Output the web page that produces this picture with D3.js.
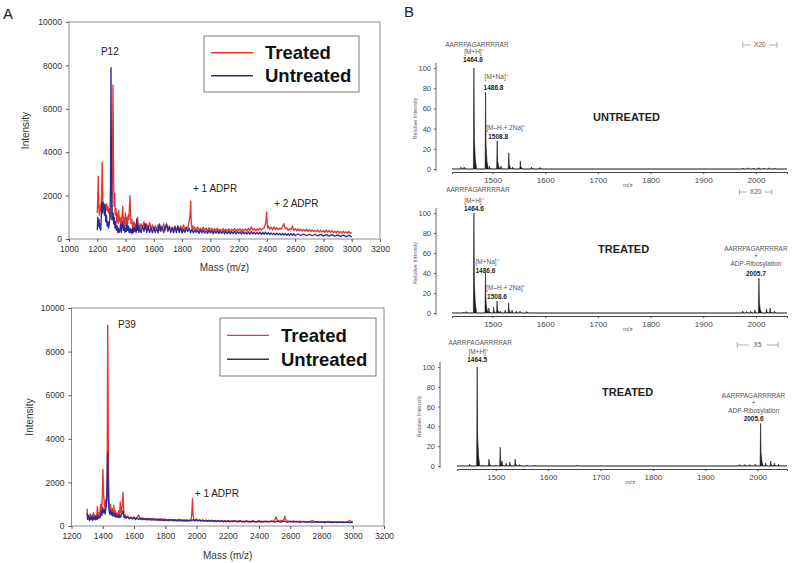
<!DOCTYPE html>
<html><head><meta charset="utf-8">
<script src="https://cdn.jsdelivr.net/npm/d3@7"></script>
<style>body{margin:0;background:#fff} svg{display:block;font-family:"Liberation Sans",Arial,sans-serif}</style>
</head><body><svg id="c" width="800" height="563"></svg>
<script>
// ---------------- DATA ----------------
// Panel A (top): P12 spectra [m/z, intensity]
const p12Treated = [[1200,1200],[1204,2000],[1207,2900],[1211,1500],[1215,1100],[1219,1300],[1223,1600],[1227,1300],[1231,2200],[1235,3550],[1239,1800],[1243,1400],[1247,1600],[1251,1300],[1255,1500],[1260,1350],[1265,1600],[1270,1300],[1275,1500],[1280,1200],[1285,1400],[1290,1000],[1295,1200],[1300,900],[1304,1400],[1307,3000],[1311,7100],[1315,3200],[1319,1500],[1323,2100],[1327,1100],[1332,1400],[1337,800],[1342,1200],[1347,700],[1352,1300],[1357,800],[1362,1000],[1367,600],[1372,900],[1376,1100],[1380,1500],[1384,700],[1389,1000],[1394,500],[1399,1200],[1404,600],[1409,1000],[1414,700],[1419,1100],[1424,900],[1428,1500],[1431,2000],[1435,1100],[1440,700],[1445,900],[1450,500],[1455,700],[1460,800],[1465,450],[1470,700],[1475,500],[1480,900],[1485,1000],[1490,500],[1495,700],[1500,450],[1510,700],[1520,500],[1530,800],[1540,450],[1550,700],[1560,400],[1570,750],[1580,450],[1590,650],[1600,400],[1610,600],[1620,450],[1630,650],[1640,400],[1650,600],[1660,450],[1670,700],[1680,400],[1690,650],[1700,450],[1710,600],[1720,400],[1730,550],[1740,450],[1750,600],[1760,400],[1770,550],[1780,450],[1790,600],[1800,400],[1810,650],[1820,450],[1830,550],[1840,500],[1852,900],[1857,1200],[1861,1750],[1865,700],[1870,500],[1875,600],[1880,450],[1890,550],[1900,400],[1910,550],[1920,400],[1930,500],[1940,380],[1950,550],[1960,400],[1970,500],[1980,380],[1990,520],[2000,400],[2010,500],[2020,350],[2030,480],[2040,380],[2050,500],[2060,350],[2070,450],[2080,380],[2090,480],[2100,350],[2110,450],[2120,380],[2130,470],[2140,350],[2150,450],[2160,380],[2170,480],[2180,350],[2190,460],[2200,380],[2210,470],[2220,350],[2230,450],[2240,380],[2250,460],[2260,360],[2270,500],[2280,380],[2290,560],[2300,400],[2310,480],[2320,380],[2330,470],[2340,400],[2350,500],[2360,420],[2370,480],[2380,500],[2390,700],[2394,900],[2398,1250],[2402,700],[2406,500],[2410,600],[2420,450],[2430,550],[2440,420],[2450,560],[2460,430],[2470,520],[2480,420],[2490,500],[2500,450],[2510,550],[2520,700],[2530,480],[2540,520],[2550,400],[2560,480],[2570,420],[2580,600],[2590,400],[2600,480],[2610,380],[2620,470],[2630,380],[2640,450],[2650,360],[2660,440],[2670,360],[2680,450],[2690,350],[2700,430],[2710,340],[2720,420],[2730,340],[2740,400],[2750,330],[2760,420],[2770,320],[2780,400],[2790,320],[2800,380],[2810,300],[2820,420],[2830,310],[2840,400],[2850,300],[2860,380],[2870,290],[2880,360],[2890,280],[2900,370],[2910,280],[2920,350],[2930,270],[2940,360],[2950,280],[2960,340],[2970,260],[2980,350],[2990,250],[3000,300]];
const p12Untreated = [[1200,400],[1204,1000],[1208,600],[1212,900],[1216,500],[1220,700],[1224,400],[1228,1000],[1232,1700],[1236,1200],[1240,1700],[1245,1500],[1250,1100],[1255,1600],[1260,800],[1265,1100],[1270,600],[1275,800],[1280,500],[1285,700],[1290,1000],[1294,2500],[1297,7900],[1300,3500],[1303,1500],[1307,900],[1312,1200],[1316,700],[1320,1000],[1325,500],[1330,800],[1335,400],[1340,600],[1345,300],[1350,500],[1355,300],[1360,400],[1365,700],[1370,300],[1375,600],[1380,800],[1385,400],[1390,600],[1395,300],[1400,500],[1405,350],[1410,700],[1415,400],[1420,600],[1425,300],[1430,500],[1435,300],[1440,450],[1445,250],[1450,500],[1455,300],[1460,550],[1465,350],[1470,500],[1475,300],[1480,900],[1485,400],[1490,600],[1495,300],[1500,500],[1510,300],[1520,600],[1530,350],[1540,700],[1550,300],[1560,600],[1570,300],[1580,500],[1590,280],[1600,550],[1610,300],[1620,500],[1630,280],[1640,700],[1650,350],[1660,550],[1670,300],[1680,500],[1690,700],[1700,350],[1710,550],[1720,300],[1730,500],[1740,280],[1750,550],[1760,300],[1770,600],[1780,300],[1790,500],[1800,280],[1810,450],[1820,300],[1830,500],[1840,350],[1850,500],[1860,300],[1870,450],[1880,280],[1890,420],[1900,300],[1910,400],[1920,260],[1930,420],[1940,280],[1950,400],[1960,270],[1970,380],[1980,260],[1990,400],[2000,280],[2010,380],[2020,250],[2030,370],[2040,270],[2050,380],[2060,250],[2070,360],[2080,260],[2090,370],[2100,240],[2110,350],[2120,250],[2130,360],[2140,240],[2150,340],[2160,250],[2170,350],[2180,230],[2190,340],[2200,250],[2210,330],[2220,230],[2230,340],[2240,240],[2250,320],[2260,230],[2270,330],[2280,220],[2290,340],[2300,230],[2310,320],[2320,220],[2330,310],[2340,220],[2350,320],[2360,210],[2370,300],[2380,220],[2390,320],[2400,220],[2410,290],[2420,200],[2430,280],[2440,200],[2450,270],[2460,190],[2470,270],[2480,190],[2490,260],[2500,180],[2510,260],[2520,180],[2530,250],[2540,170],[2550,250],[2560,170],[2570,240],[2580,170],[2590,240],[2600,160],[2620,230],[2640,160],[2660,230],[2680,150],[2700,220],[2720,150],[2740,220],[2760,140],[2780,210],[2800,140],[2820,200],[2840,130],[2860,200],[2880,130],[2900,190],[2920,120],[2940,180],[2960,110],[2980,170],[3000,100]];
// Panel A (bottom): P39 spectra
const p39Treated = [[1300,800],[1303,400],[1310,500],[1315,300],[1320,550],[1330,350],[1340,600],[1345,400],[1350,500],[1360,350],[1366,900],[1370,400],[1375,600],[1380,500],[1386,1000],[1391,600],[1397,1300],[1401,2600],[1405,1500],[1409,1100],[1414,800],[1418,1200],[1422,900],[1428,2000],[1432,9200],[1436,3000],[1440,1200],[1445,700],[1450,1000],[1455,600],[1460,800],[1465,550],[1470,950],[1475,600],[1480,700],[1485,500],[1492,600],[1497,450],[1502,700],[1507,500],[1512,1100],[1517,600],[1522,800],[1526,1000],[1530,1550],[1534,700],[1538,450],[1543,500],[1550,400],[1560,450],[1570,350],[1580,400],[1590,350],[1600,420],[1610,330],[1620,400],[1630,500],[1640,320],[1650,380],[1660,300],[1670,350],[1680,280],[1690,360],[1700,280],[1710,350],[1720,270],[1730,340],[1740,260],[1750,320],[1760,250],[1770,330],[1780,250],[1790,320],[1800,240],[1810,300],[1820,230],[1830,300],[1840,240],[1850,290],[1860,230],[1870,280],[1880,220],[1890,300],[1900,230],[1910,280],[1920,220],[1930,270],[1940,220],[1950,260],[1960,230],[1966,300],[1970,600],[1974,1250],[1978,500],[1983,300],[1990,250],[2000,320],[2010,240],[2020,280],[2030,230],[2040,280],[2050,220],[2060,270],[2070,210],[2080,260],[2090,210],[2100,260],[2110,200],[2120,250],[2130,200],[2140,240],[2150,200],[2160,250],[2170,190],[2180,240],[2190,200],[2200,240],[2210,190],[2220,240],[2230,190],[2240,230],[2250,190],[2260,230],[2270,180],[2280,230],[2290,190],[2300,220],[2310,180],[2320,230],[2330,180],[2340,220],[2350,180],[2360,220],[2370,180],[2380,210],[2390,180],[2400,220],[2410,180],[2420,220],[2430,180],[2440,210],[2450,180],[2460,220],[2470,190],[2480,230],[2490,200],[2500,250],[2505,350],[2510,420],[2515,280],[2520,240],[2530,220],[2540,250],[2550,230],[2560,300],[2565,450],[2570,300],[2580,230],[2590,220],[2600,200],[2620,230],[2640,190],[2660,220],[2680,190],[2700,210],[2720,180],[2740,250],[2760,180],[2780,210],[2800,170],[2820,200],[2840,170],[2860,200],[2880,160],[2900,190],[2920,160],[2940,190],[2960,160],[2980,250],[3000,170]];
const p39Untreated = [[1300,600],[1303,300],[1310,450],[1315,250],[1320,400],[1325,300],[1330,450],[1335,250],[1340,400],[1345,300],[1350,450],[1355,280],[1360,420],[1365,300],[1370,500],[1375,350],[1380,450],[1385,400],[1390,650],[1395,500],[1400,850],[1405,600],[1410,750],[1415,550],[1420,800],[1426,1200],[1431,3400],[1435,1500],[1439,800],[1444,550],[1449,700],[1454,500],[1460,650],[1465,450],[1470,600],[1475,450],[1480,550],[1485,400],[1490,500],[1495,400],[1500,500],[1505,380],[1510,500],[1515,400],[1520,550],[1526,600],[1530,700],[1534,450],[1538,380],[1543,450],[1550,350],[1560,420],[1570,330],[1580,400],[1590,320],[1600,380],[1610,300],[1620,370],[1630,300],[1640,360],[1650,290],[1660,350],[1670,290],[1680,340],[1690,280],[1700,340],[1710,270],[1720,330],[1730,270],[1740,320],[1750,260],[1760,320],[1770,260],[1780,310],[1790,250],[1800,310],[1810,250],[1820,300],[1830,250],[1840,300],[1850,240],[1860,300],[1870,240],[1880,290],[1890,240],[1900,290],[1910,230],[1920,290],[1930,230],[1940,280],[1950,230],[1960,280],[1970,240],[1980,290],[1990,230],[2000,280],[2010,230],[2020,270],[2030,220],[2040,270],[2050,220],[2060,260],[2070,220],[2080,260],[2090,210],[2100,260],[2110,210],[2120,250],[2130,210],[2140,250],[2150,200],[2160,250],[2170,200],[2180,240],[2190,200],[2200,240],[2220,200],[2240,240],[2260,200],[2280,240],[2300,190],[2320,230],[2340,190],[2360,230],[2380,190],[2400,230],[2420,190],[2440,220],[2460,190],[2480,220],[2500,180],[2520,220],[2540,180],[2560,220],[2580,180],[2600,210],[2620,180],[2640,210],[2660,170],[2680,210],[2700,170],[2720,200],[2740,170],[2760,200],[2780,170],[2800,200],[2820,160],[2840,200],[2860,160],[2880,190],[2900,160],[2920,190],[2940,160],[2960,180],[2980,160],[3000,170]];
const intensityTicks = [0,2000,4000,6000,8000,10000];
const massTicksTop = [1000,1200,1400,1600,1800,2000,2200,2400,2600,2800,3000,3200];
const massTicksBottom = [1200,1400,1600,1800,2000,2200,2400,2600,2800,3000,3200];
const seriesNames = ["Treated","Untreated"];

// Panel B: peak lists [m/z, relative intensity]
const untreatedPeaks = [[1440,2],[1446,2],[1464.6,100],[1486.8,76],[1494,3],[1508.8,28],[1516,3],[1530.8,16],[1538,2],[1552.8,8],[1574,2],[1590,1.5],[1975,1],[1985,1.2],[1995,1],[2005,1.3],[2015,1],[2025,1.2],[2035,1]];
const treatedPeaks1 = [[1445,1],[1450,1.5],[1464.6,100],[1486.6,40],[1493,5],[1502,6],[1508.6,12],[1515,2],[1524,3],[1530.6,10],[1537,3],[1545,2],[1552,2],[1565,1.5],[1975,2],[1982,1.5],[1990,2],[1998,3],[2005.7,35],[2020,4],[2027,5],[2035,2]];
const treatedPeaks2 = [[1450,2],[1464.5,100],[1475,1],[1487,7],[1500,1],[1508.5,19],[1512,5],[1520,3],[1527,4],[1537,7],[1545,1.5],[1560,1],[1575,1],[1655,1],[1965,1.5],[1975,1.5],[1985,1.5],[1995,2],[2005.6,43],[2015,3],[2025,5],[2032,3],[2040,2]];
const relTicks = [0,20,40,60,80,100];
const mzTicks = [1500,1600,1700,1800,1900,2000];
const peptide = "AARRPAGARRRRAR";

// ---------------- DRAW ----------------
const RED = "#e4372f", BLUE = "#2b2b95";
const svg = d3.select("#c");

function styleAxis(a, size, color){
  a.select(".domain").remove();
  a.selectAll("line").attr("stroke","#555");
  a.selectAll("text").attr("font-size",size).attr("fill",color).attr("font-family",'"Liberation Sans", Arial, sans-serif');
}

function panelA(o){
  const g = svg.append("g");
  const x = d3.scaleLinear().domain(o.xDomain).range(o.xRange);
  const y = d3.scaleLinear().domain([0,10000]).range(o.yRange);
  g.append("rect").attr("x",o.xRange[0]).attr("y",o.yRange[1])
    .attr("width",o.xRange[1]-o.xRange[0]).attr("height",o.yRange[0]-o.yRange[1])
    .attr("fill","none").attr("stroke","#8c8c8c").attr("stroke-width",1);
  const xa = g.append("g").attr("transform",`translate(0,${o.yRange[0]})`)
    .call(d3.axisBottom(x).tickValues(o.xTicks).tickSize(3).tickPadding(4).tickFormat(d3.format("d")));
  const ya = g.append("g").attr("transform",`translate(${o.xRange[0]},0)`)
    .call(d3.axisLeft(y).tickValues(intensityTicks).tickSize(3).tickPadding(4).tickFormat(d3.format("d")));
  styleAxis(xa,"8.5px","#333"); styleAxis(ya,"8.5px","#333");
  const line = d3.line().x(d=>x(d[0])).y(d=>y(d[1]));
  g.append("path").datum(o.treated).attr("d",line).attr("fill","none").attr("stroke",RED).attr("stroke-width",1.35).attr("stroke-linejoin","round");
  g.append("path").datum(o.untreated).attr("d",line).attr("fill","none").attr("stroke",BLUE).attr("stroke-width",1.35).attr("stroke-linejoin","round");
  // axis titles
  g.append("text").attr("x",(o.xRange[0]+o.xRange[1])/2).attr("y",o.xTitleY).attr("text-anchor","middle")
    .attr("font-size","10px").attr("fill","#333").text("Mass (m/z)");
  g.append("text").attr("transform",`translate(${o.yTitleX},${(o.yRange[0]+o.yRange[1])/2}) rotate(-90)`)
    .attr("text-anchor","middle").attr("font-size","10px").attr("fill","#333").text("Intensity");
  // annotations
  o.notes.forEach(n=>{
    g.append("text").attr("x",x(n[1])).attr("y",y(n[2])).attr("font-size","10px").attr("fill","#222").text(n[0]);
  });
  // legend
  const L = o.legend;
  g.append("rect").attr("x",L.x).attr("y",L.y).attr("width",L.w).attr("height",L.h)
    .attr("fill","#fff").attr("stroke","#7a7a7a").attr("stroke-width",1);
  [RED,BLUE].forEach((c,i)=>{
    const yy = L.y + L.h*(0.3 + 0.41*i);
    g.append("line").attr("x1",L.x+7).attr("x2",L.x+49).attr("y1",yy).attr("y2",yy).attr("stroke",c).attr("stroke-width",1.4);
    g.append("text").attr("x",L.x+61).attr("y",yy).attr("dy","0.36em").attr("font-size","18.5px")
      .attr("font-weight","bold").attr("fill","#111").text(seriesNames[i]);
  });
}

panelA({xDomain:[1000,3200], xRange:[69,380], yRange:[239,22], xTicks:massTicksTop,
  treated:p12Treated, untreated:p12Untreated, xTitleY:271, yTitleX:29,
  notes:[["P12",1226,8500],["+ 1 ADPR",1877,2150],["+ 2 ADPR",2452,1480]],
  legend:{x:204,y:36,w:155,h:56}});
panelA({xDomain:[1200,3200], xRange:[71.5,384], yRange:[526,308], xTicks:massTicksBottom,
  treated:p39Treated, untreated:p39Untreated, xTitleY:559, yTitleX:33,
  notes:[["P39",1498,9100],["+ 1 ADPR",1989,1330]],
  legend:{x:220,y:318,w:156,h:58}});

// panel letters
svg.append("text").attr("x",3).attr("y",19).attr("font-size","15px").attr("fill","#222").text("A");
svg.append("text").attr("x",404).attr("y",17).attr("font-size","15px").attr("fill","#222").text("B");

function panelB(o){
  const g = svg.append("g");
  const x = d3.scaleLinear().domain(o.xDomain).range(o.xRange);
  const y = d3.scaleLinear().domain([0,100]).range(o.yRange);
  const base = o.yRange[0];
  // spectrum
  const pts = [[o.xDomain[0],0]];
  o.peaks.forEach(p=>{
    const m=p[0], h=p[1];
    pts.push([m-1,0],[m,h],[m+0.9,h*0.3],[m+2.6,h*0.1],[m+5,0]);
  });
  pts.push([o.xDomain[1],0]);
  pts.sort((a,b)=>a[0]-b[0]);
  const area = d3.area().x(d=>x(d[0])).y0(y(0)).y1(d=>y(d[1]));
  g.append("path").datum(pts).attr("d",area).attr("fill","#1a1a1a").attr("stroke","#1a1a1a").attr("stroke-width",0.6);
  // x axis
  const xa = g.append("g").attr("transform",`translate(0,${base+3})`)
    .call(d3.axisBottom(x).tickValues(mzTicks).tickSize(2).tickPadding(3).tickFormat(d3.format("d")));
  xa.select(".domain").attr("stroke","#444").attr("stroke-width",1);
  xa.selectAll("line").attr("stroke","#444");
  xa.selectAll("text").attr("font-size","8px").attr("fill","#444");
  // y axis
  const ya = g.append("g").attr("transform",`translate(${o.yAxisX},0)`)
    .call(d3.axisLeft(y).tickValues(relTicks).tickSize(2).tickPadding(3));
  ya.select(".domain").remove();
  ya.append("line").attr("x1",0).attr("x2",0).attr("y1",y(100)-5).attr("y2",base+2).attr("stroke","#666");
  ya.selectAll(".tick line").attr("stroke","#666");
  ya.selectAll("text").attr("font-size","7.5px").attr("fill","#444");
  g.append("text").attr("transform",`translate(${o.yAxisX-19},${(y(0)+y(100))/2}) rotate(-90)`)
    .attr("text-anchor","middle").attr("font-size","5.5px").attr("fill","#666").text("Relative Intensity");
  g.append("text").attr("x",x(1757)).attr("y",base+18).attr("text-anchor","middle").attr("font-size","6px").attr("fill","#555").text("m/z");
  // title
  g.append("text").attr("x",o.titleX).attr("y",o.titleY).attr("font-size","11px").attr("font-weight","bold").attr("fill","#222").text(o.title);
  // magnification marker
  const zx1 = x(o.zoom[0]), zx2 = x(o.zoom[1]), zy = o.zoomY;
  const zc = (zx1+zx2)/2;
  g.append("line").attr("x1",zx1).attr("x2",zc-9).attr("y1",zy).attr("y2",zy).attr("stroke","#777").attr("stroke-width",0.6);
  g.append("line").attr("x1",zc+9).attr("x2",zx2).attr("y1",zy).attr("y2",zy).attr("stroke","#777").attr("stroke-width",0.6);
  [zx1,zx2].forEach(v=>g.append("line").attr("x1",v).attr("x2",v).attr("y1",zy-3).attr("y2",zy+3).attr("stroke","#777").attr("stroke-width",0.6));
  g.append("text").attr("x",zc).attr("y",zy).attr("dy","0.35em").attr("text-anchor","middle").attr("font-size","6.5px").attr("fill","#555").text(o.zoom[2]);
  // labels
  const txt = (xx,yy,s,bold,anchor)=>g.append("text").attr("x",xx).attr("y",yy).attr("text-anchor",anchor||"start")
    .attr("font-size","6.5px").attr("font-weight",bold?"bold":"normal").attr("fill",bold?"#222":"#555").text(s);
  o.labels.forEach(l=>txt(x(l.m)+l.dx, l.y, l.s, l.b, l.a));
}

panelB({xDomain:[1423,2059], xRange:[452,787], yRange:[169,68], yAxisX:436, peaks:untreatedPeaks,
  title:"UNTREATED", titleX:593, titleY:121, zoom:[1975,2040,"X20"], zoomY:45,
  labels:[
    {m:1464.6,dx:3,y:47,s:peptide,a:"middle"},
    {m:1464.6,dx:0,y:54,s:"[M+H]⁺",a:"middle"},
    {m:1464.6,dx:-1,y:62,s:"1464.6",b:true,a:"middle"},
    {m:1486.8,dx:-1,y:79,s:"[M+Na]⁺"},
    {m:1486.8,dx:-2,y:90,s:"1486.8",b:true},
    {m:1508.8,dx:-11,y:130,s:"[M–H + 2Na]⁺"},
    {m:1508.8,dx:-9,y:139,s:"1508.8",b:true}
  ]});
panelB({xDomain:[1423,2059], xRange:[452,787], yRange:[313,213], yAxisX:436, peaks:treatedPeaks1,
  title:"TREATED", titleX:598, titleY:253, zoom:[1969,2030,"X20"], zoomY:192,
  labels:[
    {m:1464.6,dx:4,y:192,s:peptide,a:"middle"},
    {m:1464.6,dx:0,y:203,s:"[M+H]⁺",a:"middle"},
    {m:1464.6,dx:0,y:211,s:"1464.6",b:true,a:"middle"},
    {m:1486.6,dx:-10,y:264,s:"[M+Na]⁺"},
    {m:1486.6,dx:-10,y:273,s:"1486.6",b:true},
    {m:1508.6,dx:-11,y:290,s:"[M–H + 2Na]⁺"},
    {m:1508.6,dx:-10,y:299,s:"1508.6",b:true},
    {m:2005.7,dx:-3,y:251,s:peptide,a:"middle"},
    {m:2005.7,dx:-3,y:258,s:"+",a:"middle"},
    {m:2005.7,dx:-3,y:266,s:"ADP-Ribosylation",a:"middle"},
    {m:2005.7,dx:-3,y:276,s:"2005.7",b:true,a:"middle"}
  ]});
panelB({xDomain:[1426,2056], xRange:[457,787], yRange:[466,367], yAxisX:440, peaks:treatedPeaks2,
  title:"TREATED", titleX:602, titleY:396, zoom:[1961,2039,"X5"], zoomY:345,
  labels:[
    {m:1464.5,dx:3,y:345,s:peptide,a:"middle"},
    {m:1464.5,dx:1,y:354,s:"[M+H]⁺",a:"middle"},
    {m:1464.5,dx:0,y:362,s:"1464.5",b:true,a:"middle"},
    {m:2005.6,dx:-7,y:398,s:peptide,a:"middle"},
    {m:2005.6,dx:-7,y:405,s:"+",a:"middle"},
    {m:2005.6,dx:-7,y:413,s:"ADP-Ribosylation",a:"middle"},
    {m:2005.6,dx:-7,y:421,s:"2005.6",b:true,a:"middle"}
  ]});
</script></body></html>
